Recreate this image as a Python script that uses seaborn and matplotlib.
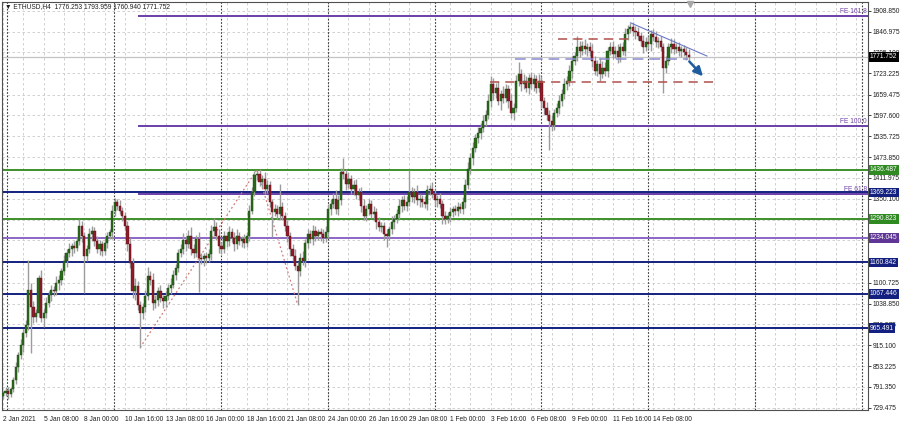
import numpy as np
import pandas as pd
import matplotlib
matplotlib.use("Agg")
import matplotlib.pyplot as plt
from matplotlib import font_manager
import seaborn as sns

# ETHUSD H4, bar by bar closes (2 Jan 2021 -> 16 Feb 2021)
closes = [
    772, 780, 770, 785, 812, 850, 885, 915, 950, 975,
    1080, 1030, 1000, 1010, 1115, 995, 1010, 1040, 1065, 1080,
    1075, 1100, 1110, 1135, 1165, 1190, 1200, 1210, 1205, 1225,
    1270, 1240, 1180, 1200, 1245, 1255, 1225, 1200, 1215, 1195,
    1220, 1240, 1250, 1315, 1340, 1330, 1315, 1300, 1270, 1215,
    1160, 1075, 1090, 1035, 1010, 1030, 1060, 1120, 1110, 1040,
    1050, 1075, 1055, 1045, 1060, 1085, 1095, 1125, 1145, 1190,
    1200, 1227, 1215, 1240, 1200, 1190, 1230, 1175, 1170, 1180,
    1175, 1185, 1255, 1265, 1240, 1210, 1200, 1240, 1225, 1250,
    1235, 1215, 1240, 1225, 1230, 1220, 1240, 1315, 1370, 1420,
    1425, 1400, 1410, 1380, 1390, 1340, 1310, 1320, 1305, 1325,
    1300, 1270, 1240, 1200, 1180, 1150, 1135, 1175, 1165, 1220,
    1245, 1230, 1255, 1240, 1250, 1245, 1235, 1250, 1320, 1335,
    1350, 1320, 1345, 1430, 1425, 1395, 1410, 1380, 1390, 1360,
    1370, 1330, 1300, 1320, 1335, 1305, 1310, 1280, 1265, 1270,
    1245, 1240, 1260, 1280, 1290, 1305, 1330, 1345, 1330, 1340,
    1370, 1355, 1370, 1345, 1350, 1340, 1335, 1375, 1380, 1365,
    1345, 1350, 1335, 1300, 1290, 1300, 1310, 1320, 1315, 1325,
    1320, 1340, 1390, 1440, 1470, 1500, 1530, 1545, 1560, 1580,
    1600, 1640, 1690, 1665, 1680, 1640, 1660, 1650, 1675, 1640,
    1605, 1620, 1700, 1720, 1690, 1700, 1680, 1710, 1690, 1705,
    1680, 1700, 1640, 1620, 1600, 1580, 1570, 1605, 1620, 1640,
    1660, 1690, 1700, 1730, 1760, 1775, 1800, 1790, 1805, 1795,
    1800, 1790, 1760, 1730, 1750, 1720, 1740, 1730, 1790, 1800,
    1780, 1790, 1770, 1800, 1790, 1840, 1855, 1860, 1850, 1845,
    1835, 1820, 1800, 1815, 1810, 1840, 1830, 1815, 1820, 1800,
    1740, 1760, 1800, 1810, 1795, 1800, 1790, 1795, 1785, 1776.253, 1771.752,
]
first_open = 765

# wick length above / below the body of each bar
wick_up = [
    8, 10, 12, 6, 10, 15, 10, 20, 12, 15,
    88, 20, 15, 12, 10, 25, 12, 18, 10, 15,
    12, 20, 15, 10, 18, 12, 20, 10, 15, 12,
    20, 15, 10, 12, 18, 15, 10, 15, 12, 10,
    15, 12, 10, 18, 12, 9, 15, 12, 10, 15,
    20, 15, 25, 15, 12, 10, 18, 27, 15, 20,
    15, 12, 18, 10, 15, 12, 20, 15, 10, 12,
    15, 20, 12, 18, 25, 15, 12, 20, 15, 10,
    12, 15, 18, 27, 15, 20, 12, 15, 10, 18,
    12, 15, 20, 12, 10, 15, 12, 18, 15, 12,
    12, 15, 12, 20, 15, 12, 10, 15, 12, 70,
    15, 12, 18, 10, 15, 20, 12, 15, 20, 12,
    15, 12, 18, 15, 10, 12, 15, 20, 12, 15,
    18, 25, 15, 12, 40, 15, 20, 12, 15, 18,
    12, 15, 20, 12, 15, 10, 18, 12, 15, 10,
    12, 15, 10, 18, 12, 15, 20, 12, 15, 18,
    65, 15, 12, 20, 15, 12, 18, 15, 12, 20,
    15, 12, 18, 10, 15, 12, 15, 10, 12, 15,
    12, 15, 20, 18, 15, 20, 12, 18, 15, 20,
    15, 20, 25, 18, 15, 20, 12, 25, 15, 12,
    20, 15, 18, 35, 15, 20, 15, 12, 18, 15,
    12, 20, 15, 12, 18, 15, 20, 12, 15, 18,
    15, 20, 15, 18, 15, 12, 35, 18, 15, 20,
    12, 15, 20, 15, 12, 18, 20, 15, 12, 15,
    18, 15, 20, 12, 15, 18, 12, 13, 15, 12,
    15, 12, 18, 15, 20, 12, 15, 18, 12, 15,
    12, 15, 12, 18, 15, 12, 15, 10, 12, 15, 17.7,
]
wick_dn = [
    10, 8, 15, 10, 8, 12, 15, 10, 20, 12,
    15, 138, 20, 15, 12, 10, 25, 15, 12, 18,
    15, 12, 20, 15, 10, 18, 12, 20, 15, 10,
    12, 18, 110, 15, 12, 20, 15, 12, 18, 15,
    12, 15, 10, 18, 15, 12, 10, 15, 12, 20,
    15, 20, 25, 15, 102, 18, 15, 12, 15, 20,
    15, 18, 12, 20, 15, 12, 18, 10, 15, 12,
    12, 15, 20, 12, 18, 15, 12, 102, 15, 20,
    15, 12, 18, 15, 12, 20, 15, 12, 18, 15,
    12, 20, 15, 12, 18, 15, 12, 15, 10, 12,
    15, 12, 18, 15, 12, 15, 74, 12, 15, 18,
    12, 15, 18, 20, 15, 12, 99, 15, 12, 18,
    15, 12, 18, 15, 12, 20, 15, 12, 15, 18,
    12, 15, 18, 12, 15, 20, 12, 15, 18, 12,
    15, 20, 12, 15, 18, 12, 15, 20, 12, 15,
    18, 34, 12, 15, 20, 12, 15, 18, 12, 15,
    12, 15, 18, 12, 20, 15, 12, 18, 15, 12,
    15, 20, 12, 25, 15, 12, 18, 15, 12, 15,
    12, 15, 18, 12, 15, 20, 12, 15, 18, 12,
    15, 12, 18, 20, 15, 12, 25, 15, 12, 20,
    15, 20, 12, 15, 20, 15, 12, 18, 15, 20,
    15, 12, 20, 18, 15, 86, 20, 15, 12, 18,
    15, 12, 18, 15, 20, 12, 15, 18, 12, 15,
    20, 15, 18, 12, 15, 20, 12, 15, 18, 12,
    15, 12, 18, 15, 12, 15, 18, 12, 15, 20,
    12, 15, 18, 12, 15, 20, 12, 15, 18, 12,
    77, 15, 12, 18, 15, 12, 15, 18, 12, 15, 10.8,
]

time_labels = ["2 Jan 2021", "5 Jan 08:00", "8 Jan 00:00", "10 Jan 16:00",
               "13 Jan 08:00", "16 Jan 00:00", "18 Jan 16:00", "21 Jan 08:00",
               "24 Jan 00:00", "26 Jan 16:00", "29 Jan 08:00", "1 Feb 00:00",
               "3 Feb 16:00", "6 Feb 08:00", "9 Feb 00:00", "11 Feb 16:00",
               "14 Feb 08:00"]
price_ticks = [729.475, 791.350, 853.225, 915.100, 976.975, 1038.850, 1100.725,
               1162.600, 1226.350, 1288.225, 1350.100, 1411.975, 1473.850,
               1535.725, 1597.600, 1659.475, 1723.225, 1785.100, 1846.975,
               1908.850]
# tick labels that sit fully under a level box on the price scale
hidden_ticks = [1162.600, 1288.225]

# horizontal support / resistance levels
level_prices = [1436.487, 1369.223, 1290.823, 1234.045, 1160.842, 1067.446, 965.491]
level_kinds = ["green", "navy", "green", "purple", "navy", "navy", "navy"]

# fibonacci expansion: A (low), B (high), C (low)
fe_bars = [54, 100, 116]
fe_prices = [908, 1437, 1036]
fe_ratios = [1.618, 1.0, 0.618]

# triangle drawn on the top
resist_price, resist_span = 1824, (218.5, 247)
support_price, support_span = 1697, (191.7, 280.3)
neck_price, neck_span = 1764, (201.6, 269.7)
trend_bars, trend_prices = [247, 277.2], [1873, 1774]
arrow_bars, arrow_prices = [270.2, 275.6], [1758, 1714]

colors = {"green": "#3d8f2a", "navy": "#13207f", "purple": "#8a66c4"}
box_colors = {"green": "#2f8a22", "navy": "#13207f", "purple": "#5f3596"}
fe_color = "#6a3fa8"


def has_font(name):
    try:
        font_manager.findfont(font_manager.FontProperties(family=name),
                              fallback_to_default=False)
        return True
    except ValueError:
        return False


sns.set_theme(style="white")
if has_font("Liberation Sans Narrow"):
    plt.rcParams["font.family"] = ["Liberation Sans Narrow", "DejaVu Sans"]
    fs = 5.5
else:
    plt.rcParams["font.family"] = ["Liberation Sans", "DejaVu Sans"]
    fs = 4.8

opens = [first_open] + closes[:-1]
df = pd.DataFrame({"open": opens, "close": closes})
df["bar"] = np.arange(len(df))
df["high"] = df[["open", "close"]].max(axis=1) + np.array(wick_up)
df["low"] = df[["open", "close"]].min(axis=1) - np.array(wick_dn)
df["bull"] = df["close"] >= df["open"]

fig = plt.figure(figsize=(9, 4.23), dpi=100)
ax = fig.add_axes([2 / 900, 13 / 423, 866 / 900, 408 / 423])
ax.set_xlim(-0.394, 340.55)
ax.set_ylim(722.6, 1934.7)

# grid and weekly separators
for yv in price_ticks:
    ax.axhline(yv, color="#c9c9c9", lw=0.6, ls=(0, (3, 3)), zorder=0)
for xv in np.arange(0, 341, 8):
    ax.axvline(xv, color="#c9c9c9", lw=0.6, ls=(0, (3, 3)), zorder=0)
for xv in np.arange(1.5, 341, 42.1):
    ax.axvline(xv, color="#3a3a3a", lw=0.8, ls=(0, (1.5, 1.5)), zorder=0.5)

# bid line
last = closes[-1]
ax.axhline(last, color="#c4c4c4", lw=0.9, zorder=1)

# levels
for p, k in zip(level_prices, level_kinds):
    ax.axhline(p, color=colors[k], lw=1.4, zorder=1.5)

# fibonacci expansion lines
span = fe_prices[1] - fe_prices[0]
for r in fe_ratios:
    lvl = fe_prices[2] + r * span
    ax.hlines(lvl, fe_bars[0] - 1, 341, color=fe_color, lw=1.4, zorder=1.5)
    ax.annotate(f"FE {r * 100:.1f}", xy=(1, lvl), xycoords=ax.get_yaxis_transform(),
                xytext=(-1, 5), textcoords="offset pixels", ha="right", va="center",
                fontsize=fs, color=fe_color)
sns.lineplot(x=fe_bars, y=fe_prices, ax=ax, sort=False, color="#d47a7a",
             lw=0.9, linestyle=(0, (1.5, 2)), zorder=2)

# candles
ax.vlines(df["bar"], df["low"], df["high"], color="#9c9c9c", lw=1.0, zorder=3)
body_bottom = df[["open", "close"]].min(axis=1)
body_h = (df["close"] - df["open"]).abs().clip(lower=2.5)
ax.bar(df["bar"], body_h, bottom=body_bottom, width=0.85,
       color=np.where(df["bull"], "#2a6a1c", "#8e1c2a"),
       edgecolor=np.where(df["bull"], "#1b4a12", "#5e1018"), lw=0.3, zorder=4)

# triangle lines
ax.hlines(resist_price, *resist_span, color="#b0504a", lw=1.1, ls=(0, (6, 4)), zorder=5)
ax.hlines(support_price, *support_span, color="#b0504a", lw=1.1, ls=(0, (6, 4)), zorder=5)
ax.hlines(neck_price, *neck_span, color="#8c8cd0", lw=1.1, ls=(0, (7, 4)), zorder=5)
sns.lineplot(x=trend_bars, y=trend_prices, ax=ax, color="#6c78c4", lw=0.8, zorder=5)
ax.annotate("", xy=(arrow_bars[1], arrow_prices[1]), xytext=(arrow_bars[0], arrow_prices[0]),
            arrowprops=dict(arrowstyle="-|>,head_length=0.45,head_width=0.22",
                            color="#1e5c9e", lw=1.8, shrinkA=0, shrinkB=0), zorder=6)

# axes styling
ax.yaxis.tick_right()
ax.set_yticks(price_ticks)
ax.set_yticklabels(["" if v in hidden_ticks else f"{v:.3f}" for v in price_ticks])
ax.set_xticks(np.arange(len(time_labels)) * 16)
ax.set_xticklabels(time_labels, ha="left")
ax.tick_params(axis="both", labelsize=fs, length=2.5, width=0.6, colors="#202020", pad=1.5)
ax.tick_params(axis="y", pad=1)
for s in ax.spines.values():
    s.set_color("#505050")
    s.set_linewidth(0.8)
ax.set_xlabel("")
ax.set_ylabel("")
if ax.get_legend():
    ax.get_legend().remove()

# price boxes on the right scale
for p, k in zip(level_prices, level_kinds):
    ax.annotate(f"{p:.3f}", xy=(1, p), xycoords=ax.get_yaxis_transform(),
                xytext=(2, 0), textcoords="offset pixels", ha="left", va="center",
                fontsize=fs, color="white", annotation_clip=False,
                bbox=dict(boxstyle="square,pad=0.2", fc=box_colors[k], ec="none"))
ax.annotate(f"{last:.3f}", xy=(1, last), xycoords=ax.get_yaxis_transform(),
            xytext=(2, 0), textcoords="offset pixels", ha="left", va="center",
            fontsize=fs, color="white", annotation_clip=False,
            bbox=dict(boxstyle="square,pad=0.2", fc="black", ec="none"))

# header text and chart shift marker
ax.text(0.003, 0.989, "\u25bc ETHUSD,H4  1776.253 1793.959 1760.940 1771.752",
        transform=ax.transAxes, fontsize=fs, color="#202020", va="center", ha="left")
ax.plot([270.5], [1930], marker="v", ms=4, color="#a8a8a8", clip_on=False, zorder=7)

fig.savefig("out.png", dpi=100)
